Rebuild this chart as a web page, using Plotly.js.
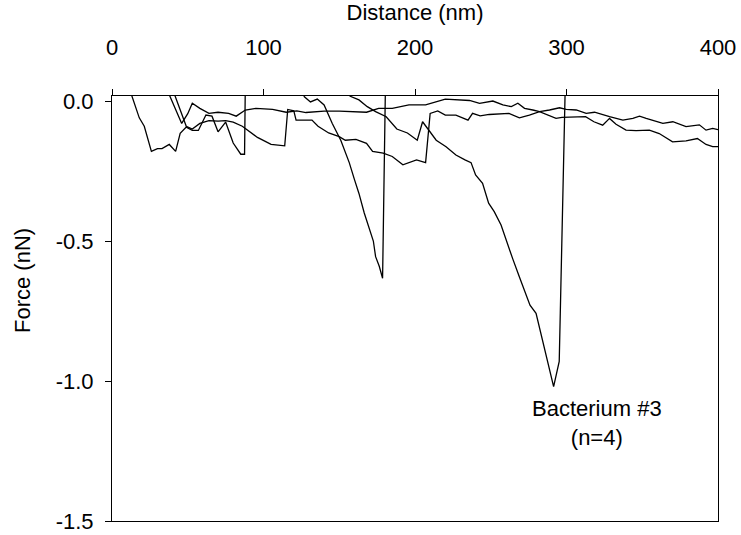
<!DOCTYPE html>
<html>
<head>
<meta charset="utf-8">
<script src="https://cdn.plot.ly/plotly-3.0.1.min.js"></script>
<style>html,body{margin:0;padding:0;background:#fff;}#chart{width:741px;height:535px;}</style>
</head>
<body>
<div id="chart"></div>
<script>
// Curve 1 (early rupture at ~88 nm, then long peak to -0.63 nN, rupture at ~180 nm)
var curve1X = [13, 18, 21.3, 26, 30, 33, 37.8, 42, 45, 49, 53, 57, 62, 66, 70, 75, 80, 85, 87.5, 88, 125,
               127, 131, 135.5, 140, 145.4, 151, 156.6, 160, 163, 166.5, 170, 172.5, 174, 176.4, 178.6, 180.5];
var curve1Y = [0.02, -0.06, -0.09, -0.18, -0.17, -0.17, -0.155, -0.18, -0.115, -0.093, -0.105, -0.105, -0.05, -0.054, -0.11, -0.075, -0.15, -0.19, -0.19, 0.06, 0.04,
               0.015, -0.003, 0.007, -0.014, -0.08, -0.14, -0.22, -0.28, -0.33, -0.40, -0.46, -0.50, -0.556, -0.59, -0.633, 0.06];

// Curve 2 (large adhesion peak -1.02 nN at ~292 nm)
var curve2X = [156.8, 163, 168.5, 174, 181, 188, 195, 201.5, 205, 208, 214, 220.5, 227, 233, 237, 240, 244.6, 248.6, 252.3,
               256.8, 260, 264.4, 268.8, 272.8, 275.9, 279.9, 283.2, 286.5, 291.5, 295.2, 299.2];
var curve2Y = [0.018, 0.004, -0.02, -0.038, -0.056, -0.10, -0.114, -0.14, -0.074, -0.096, -0.14, -0.163, -0.193, -0.21, -0.22, -0.264, -0.294, -0.365, -0.395,
               -0.443, -0.496, -0.562, -0.627, -0.681, -0.729, -0.758, -0.83, -0.913, -1.02, -0.93, 0.06];

// Curve 3 (ruptures at ~116 nm and ~210 nm, then flat tail)
var curve3X = [41.5, 46, 49, 53, 58, 64, 70, 75, 80, 86, 96, 105, 114, 116, 120, 121.5, 132, 136, 143, 150, 154, 161, 168, 172, 179, 185, 192, 201, 207,
               210, 215, 220, 227, 235, 238, 243, 249, 262, 268.9, 275.5, 282.2, 293.1, 297, 312.6, 318.1, 323.9, 328.4, 332.7, 339.3, 345.9, 354.7, 361.2, 370, 378.9, 386.4, 392.1, 396.5, 400];
var curve3Y = [0.02, -0.05, -0.09, -0.10, -0.08, -0.07, -0.072, -0.07, -0.075, -0.09, -0.13, -0.155, -0.16, -0.03, -0.035, -0.068, -0.068, -0.09, -0.114, -0.127, -0.14, -0.137, -0.151, -0.18, -0.186, -0.198, -0.228, -0.21, -0.22,
               -0.044, -0.035, -0.05, -0.05, -0.068, -0.044, -0.053, -0.048, -0.044, -0.060, -0.050, -0.038, -0.062, -0.058, -0.056, -0.074, -0.086, -0.062, -0.083, -0.104, -0.106, -0.104, -0.116, -0.146, -0.142, -0.134, -0.155, -0.163, -0.163];

// Curve 4 (no specific rupture, stays near baseline)
var curve4X = [38, 46, 50, 53, 58, 64, 70, 77, 82, 88, 95, 106, 115, 122, 128, 140, 150, 160, 168, 176, 185, 196, 207, 220, 236,
               242.6, 251.4, 258, 263.6, 267.9, 272.3, 277.8, 282.2, 288.8, 295.4, 299.8, 306.4, 313, 318.5, 328.4, 337.2, 343.8, 348.2, 352.6, 363.6, 370.2, 378.9, 387.7, 392.1, 396.5, 400];
var curve4Y = [0.02, -0.08, -0.045, -0.008, -0.026, -0.044, -0.04, -0.044, -0.054, -0.032, -0.026, -0.03, -0.04, -0.035, -0.041, -0.036, -0.036, -0.038, -0.04, -0.026, -0.026, -0.014, -0.014, 0.007, 0.002,
               -0.008, 0.0, -0.014, -0.02, -0.008, -0.026, -0.032, -0.038, -0.032, -0.024, -0.03, -0.032, -0.044, -0.04, -0.056, -0.068, -0.062, -0.054, -0.062, -0.080, -0.074, -0.091, -0.085, -0.104, -0.098, -0.102];

var xTickVals = [0, 100, 200, 300, 400];
var yTickVals = [0, -0.5, -1.0, -1.5];
var yTickText = ["0.0", "-0.5", "-1.0", "-1.5"];

var FONT = "Liberation Sans, Arial, sans-serif";
function trace(x, y) {
  return {x: x, y: y, type: "scatter", mode: "lines", line: {color: "#000", width: 1.3}, hoverinfo: "skip"};
}
var data = [trace(curve1X, curve1Y), trace(curve2X, curve2Y), trace(curve3X, curve3Y), trace(curve4X, curve4Y)];

var layout = {
  width: 741, height: 535,
  margin: {l: 112, r: 23, t: 96, b: 14},
  paper_bgcolor: "#fff", plot_bgcolor: "#fff",
  showlegend: false,
  font: {family: FONT, size: 22, color: "#000"},
  xaxis: {
    side: "top", range: [0, 400], tickvals: xTickVals,
    showgrid: false, zeroline: false, showline: true, mirror: true,
    linecolor: "#000", linewidth: 1,
    ticks: "outside", ticklen: 6, tickcolor: "#000", tickwidth: 1,
    ticklabelstandoff: 25,
    tickfont: {family: FONT, size: 22},
    title: {text: "Distance (nm)", font: {family: FONT, size: 22}, standoff: 11}
  },
  yaxis: {
    range: [-1.5, 0.018], tickvals: yTickVals, ticktext: yTickText,
    showgrid: false, zeroline: false, showline: true, mirror: true,
    linecolor: "#000", linewidth: 1,
    ticks: "outside", ticklen: 6, tickcolor: "#000", tickwidth: 1,
    ticklabelstandoff: 7,
    tickfont: {family: FONT, size: 22}
  },
  annotations: [{
    x: 320, y: -1.15, xref: "x", yref: "y", showarrow: false,
    text: "Bacterium #3<br>(n=4)", align: "center",
    font: {family: FONT, size: 22, color: "#000"}
  }, {
    x: 0, y: 0, xref: "paper", yref: "paper", showarrow: false,
    xanchor: "center", yanchor: "middle", textangle: -90,
    text: "Force (nN)",
    font: {family: FONT, size: 22, color: "#000"}
  }]
};
// y-title position given in pixels from the paper's top-left; convert to paper fractions
var plotW = 741 - 112 - 23, plotH = 535 - 96 - 14;
layout.annotations[1].x = (22 - 112) / plotW;
layout.annotations[1].y = (535 - 14 - 281) / plotH;
Plotly.newPlot("chart", data, layout, {staticPlot: true, displayModeBar: false});
</script>
</body>
</html>
